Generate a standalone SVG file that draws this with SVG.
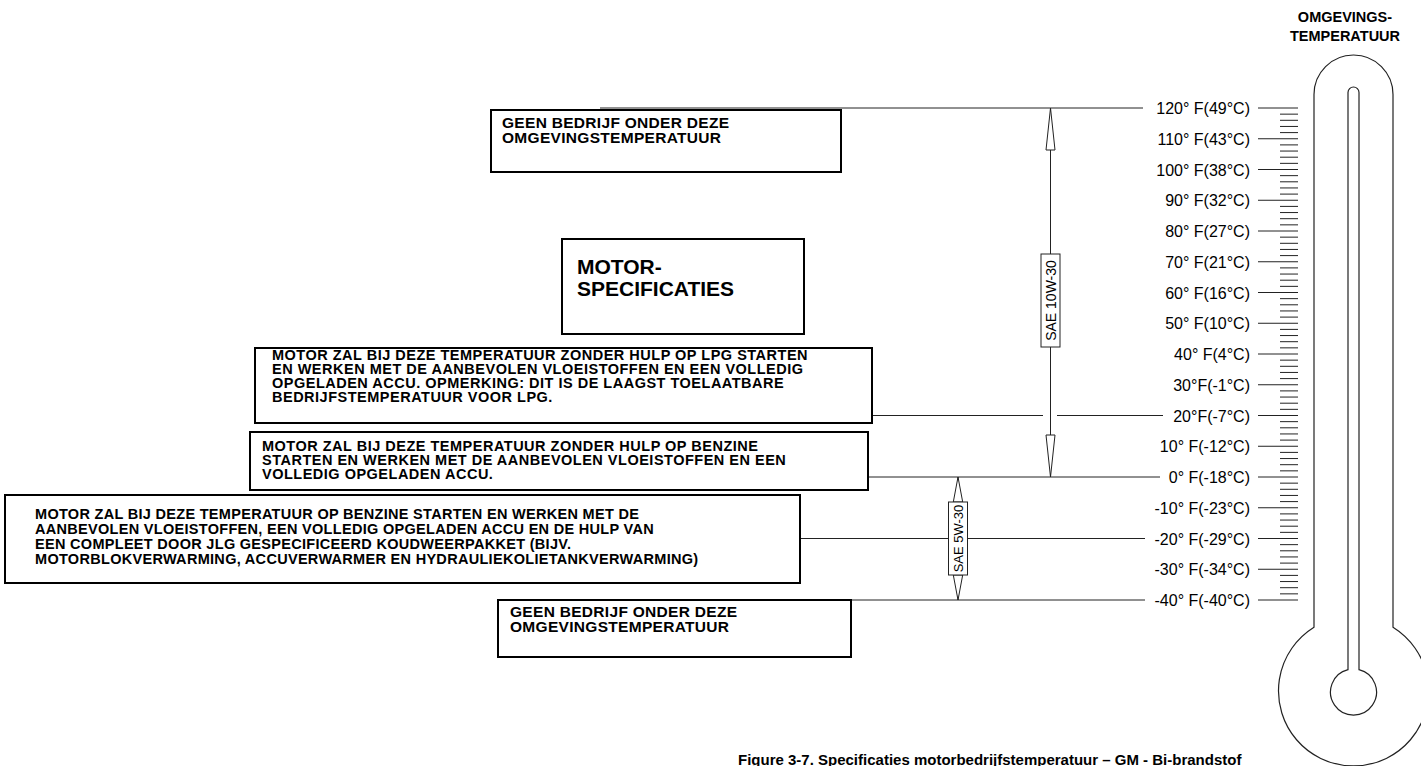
<svg xmlns="http://www.w3.org/2000/svg" width="1421" height="766" viewBox="0 0 1421 766">
<style>
.box{fill:#fff;stroke:#000;stroke-width:2}
.t{font-family:"Liberation Sans",Arial,sans-serif;font-weight:bold;font-size:14.5px;letter-spacing:0.5px;fill:#000}
.t16{font-size:15.5px;letter-spacing:0.3px}
.tmp{font-family:"Liberation Sans",Arial,sans-serif;font-size:16px;fill:#000;text-anchor:end}
.ln{stroke:#222;stroke-width:1;fill:none}
.ah{fill:#fff;stroke:#222;stroke-width:1}
.sae{font-family:"Liberation Sans",Arial,sans-serif;font-size:14px;fill:#000;text-anchor:middle}
.th{fill:none;stroke:#222;stroke-width:1.2}
</style>
<g id="connectors">
<path class="ln" d="M600 108H1143M872 415.5H1043M1057 415.5H1163M868 477H1160M800 538.5H948M968 538.5H1145M851 600H1145"/>
<path class="ln" d="M1050.5 108V477M958 477V600"/>
<polygon class="ah" points="1050.5,108 1046,150 1055,150"/>
<polygon class="ah" points="1050.5,477 1046,435 1055,435"/>
<polygon class="ah" points="958,477 953.3,502 962.7,502"/>
<polygon class="ah" points="958,600 953.3,575 962.7,575"/>
</g>
<g id="sae10w30">
<rect x="1041" y="254" width="19" height="93" fill="#fff" stroke="#222" stroke-width="1"/>
<text class="sae" transform="translate(1055.5 300.5) rotate(-90)">SAE 10W-30</text>
</g>
<g id="sae5w30">
<rect x="948.5" y="502" width="19" height="73" fill="#fff" stroke="#222" stroke-width="1"/>
<text class="sae" transform="translate(963 538.5) rotate(-90)" style="font-size:13px">SAE 5W-30</text>
</g>
<g id="box-geen-top">
<rect class="box" x="491" y="110" width="350" height="62"/>
<text class="t t16" x="502" y="128">GEEN BEDRIJF ONDER DEZE</text>
<text class="t t16" x="502" y="143">OMGEVINGSTEMPERATUUR</text>
</g>
<g id="box-motor">
<rect class="box" x="562" y="239" width="242" height="95"/>
<text class="t" x="577" y="274" style="font-size:21px;letter-spacing:0">MOTOR-</text>
<text class="t" x="577" y="296" style="font-size:21px;letter-spacing:0">SPECIFICATIES</text>
</g>
<g id="box-lpg">
<rect class="box" x="255" y="348" width="617" height="75"/>
<text class="t" x="272" y="360">MOTOR ZAL BIJ DEZE TEMPERATUUR ZONDER HULP OP LPG STARTEN</text>
<text class="t" x="272" y="374">EN WERKEN MET DE AANBEVOLEN VLOEISTOFFEN EN EEN VOLLEDIG</text>
<text class="t" x="272" y="388">OPGELADEN ACCU. OPMERKING: DIT IS DE LAAGST TOELAATBARE</text>
<text class="t" x="272" y="402">BEDRIJFSTEMPERATUUR VOOR LPG.</text>
</g>
<g id="box-benzine">
<rect class="box" x="250" y="432" width="618" height="58"/>
<text class="t" x="262" y="451">MOTOR ZAL BIJ DEZE TEMPERATUUR ZONDER HULP OP BENZINE</text>
<text class="t" x="262" y="465">STARTEN EN WERKEN MET DE AANBEVOLEN VLOEISTOFFEN EN EEN</text>
<text class="t" x="262" y="479">VOLLEDIG OPGELADEN ACCU.</text>
</g>
<g id="box-koud">
<rect class="box" x="5" y="495" width="795" height="88"/>
<text class="t" x="35" y="519" style="letter-spacing:0.3px">MOTOR ZAL BIJ DEZE TEMPERATUUR OP BENZINE STARTEN EN WERKEN MET DE</text>
<text class="t" x="35" y="534" style="letter-spacing:0.3px">AANBEVOLEN VLOEISTOFFEN, EEN VOLLEDIG OPGELADEN ACCU EN DE HULP VAN</text>
<text class="t" x="35" y="549" style="letter-spacing:0.3px">EEN COMPLEET DOOR JLG GESPECIFICEERD KOUDWEERPAKKET (BIJV.</text>
<text class="t" x="35" y="564" style="letter-spacing:0.3px">MOTORBLOKVERWARMING, ACCUVERWARMER EN HYDRAULIEKOLIETANKVERWARMING)</text>
</g>
<g id="box-geen-bottom">
<rect class="box" x="498" y="600" width="353" height="57"/>
<text class="t t16" x="510" y="617">GEEN BEDRIJF ONDER DEZE</text>
<text class="t t16" x="510" y="632">OMGEVINGSTEMPERATUUR</text>
</g>
<g id="thermometer">
<text class="t" x="1345" y="22" text-anchor="middle" style="letter-spacing:0">OMGEVINGS-</text>
<text class="t" x="1345" y="41" text-anchor="middle" style="letter-spacing:0">TEMPERATUUR</text>
<path class="th" d="M1314 627.2V94.5A39.5 39.5 0 0 1 1393 94.5V627.2A75 75 0 1 1 1314 627.2Z"/>
<path class="th" d="M1348 669.7V92.5A5.5 5.5 0 0 1 1359 92.5V669.7A23 23 0 1 1 1348 669.7Z"/>
<path class="ln" d="M1280 114.15h18M1280 120.3h18M1280 126.45h18M1280 132.6h18M1280 144.9h18M1280 151.05h18M1280 157.2h18M1280 163.35h18M1280 175.65h18M1280 181.8h18M1280 187.95h18M1280 194.1h18M1280 206.4h18M1280 212.55h18M1280 218.7h18M1280 224.85h18M1280 237.15h18M1280 243.3h18M1280 249.45h18M1280 255.6h18M1280 267.9h18M1280 274.05h18M1280 280.2h18M1280 286.35h18M1280 298.65h18M1280 304.8h18M1280 310.95h18M1280 317.1h18M1280 329.4h18M1280 335.55h18M1280 341.7h18M1280 347.85h18M1280 360.15h18M1280 366.3h18M1280 372.45h18M1280 378.6h18M1280 390.9h18M1280 397.05h18M1280 403.2h18M1280 409.35h18M1280 421.65h18M1280 427.8h18M1280 433.95h18M1280 440.1h18M1280 452.4h18M1280 458.55h18M1280 464.7h18M1280 470.85h18M1280 483.15h18M1280 489.3h18M1280 495.45h18M1280 501.6h18M1280 513.9h18M1280 520.05h18M1280 526.2h18M1280 532.35h18M1280 544.65h18M1280 550.8h18M1280 556.95h18M1280 563.1h18M1280 575.4h18M1280 581.55h18M1280 587.7h18M1280 593.85h18"/>
<path class="ln" d="M1258 108h40M1258 138.75h40M1258 169.5h40M1258 200.25h40M1258 231h40M1258 261.75h40M1258 292.5h40M1258 323.25h40M1258 354h40M1258 384.75h40M1258 415.5h40M1258 446.25h40M1258 477h40M1258 507.75h40M1258 538.5h40M1258 569.25h40M1258 600h40"/>
</g>
<g id="temperature-labels">
<text class="tmp" x="1250" y="114">120° F(49°C)</text>
<text class="tmp" x="1250" y="144.75">110° F(43°C)</text>
<text class="tmp" x="1250" y="175.5">100° F(38°C)</text>
<text class="tmp" x="1250" y="206.25">90° F(32°C)</text>
<text class="tmp" x="1250" y="237">80° F(27°C)</text>
<text class="tmp" x="1250" y="267.75">70° F(21°C)</text>
<text class="tmp" x="1250" y="298.5">60° F(16°C)</text>
<text class="tmp" x="1250" y="329.25">50° F(10°C)</text>
<text class="tmp" x="1250" y="360">40° F(4°C)</text>
<text class="tmp" x="1250" y="390.75">30°F(-1°C)</text>
<text class="tmp" x="1250" y="421.5">20°F(-7°C)</text>
<text class="tmp" x="1250" y="452.25">10° F(-12°C)</text>
<text class="tmp" x="1250" y="483">0° F(-18°C)</text>
<text class="tmp" x="1250" y="513.75">-10° F(-23°C)</text>
<text class="tmp" x="1250" y="544.5">-20° F(-29°C)</text>
<text class="tmp" x="1250" y="575.25">-30° F(-34°C)</text>
<text class="tmp" x="1250" y="606">-40° F(-40°C)</text>
</g>
<g id="caption">
<text class="t" x="738" y="765" style="font-size:15px;letter-spacing:0">Figure 3-7. Specificaties motorbedrijfstemperatuur – GM - Bi-brandstof</text>
</g>
</svg>
